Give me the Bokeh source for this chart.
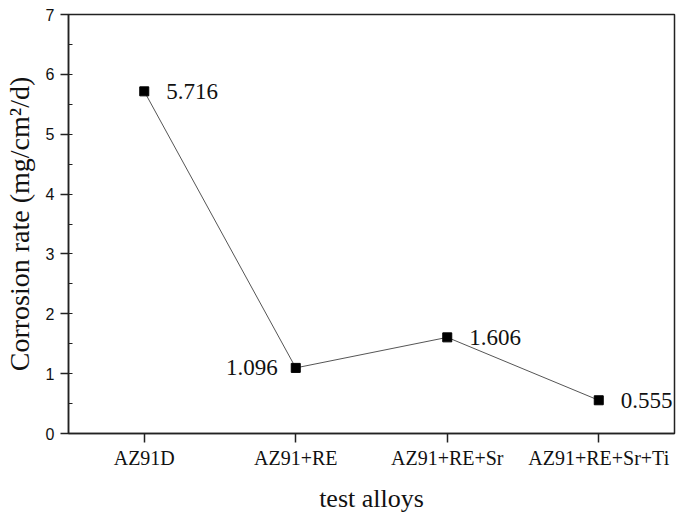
from bokeh.plotting import figure
from bokeh.models import Range1d, FactorRange, SingleIntervalTicker
from bokeh.core.properties import value
from bokeh.embed import file_html
from bokeh.resources import INLINE

categories = ["AZ91D", "AZ91+RE", "AZ91+RE+Sr", "AZ91+RE+Sr+Ti"]
corrosion_rate = [5.716, 1.096, 1.606, 0.555]
label_side = ["right", "left", "right", "right"]

p = figure(width=677, height=515, x_range=FactorRange(factors=categories),
           y_range=Range1d(0, 7), output_backend="svg", toolbar_location=None,
           min_border_left=68, min_border_right=3, min_border_top=14, min_border_bottom=82)

p.grid.visible = False
p.outline_line_color = "#222222"
p.outline_line_width = 1.5
p.background_fill_color = "white"
p.border_fill_color = "white"

p.line(categories, corrosion_rate, line_color="#555555", line_width=1)
p.scatter(categories, corrosion_rate, marker="square", size=9, color="black")

# label placed to the right of the point -> left-aligned text, and vice versa
for side, align, off in (("right", "left", 22), ("left", "right", -18)):
    xs = [c for c, s in zip(categories, label_side) if s == side]
    ys = [v for v, s in zip(corrosion_rate, label_side) if s == side]
    ts = [f"{v:.3f}" for v in ys]
    p.text(x=xs, y=ys, text=ts, x_offset=off, text_align=align, text_baseline="middle",
           text_font=value("Liberation Serif"), text_font_size="23px", text_color="#111111")

# y axis
p.yaxis.ticker = SingleIntervalTicker(interval=1, num_minor_ticks=2)
p.yaxis.axis_label = "Corrosion rate (mg/cm²/d)"
p.yaxis.axis_label_text_font = "Liberation Serif"
p.yaxis.axis_label_text_font_style = "normal"
p.yaxis.axis_label_text_font_size = "28px"
p.yaxis.axis_label_text_color = "#111111"
p.yaxis.axis_label_standoff = 8
p.yaxis.major_label_text_font = "Liberation Sans"
p.yaxis.major_label_text_font_size = "16px"
p.yaxis.major_label_text_color = "#111111"
p.yaxis.major_label_standoff = 6
p.yaxis.major_tick_out = 8
p.yaxis.major_tick_in = 0
p.yaxis.minor_tick_out = 0
p.yaxis.minor_tick_in = 4
p.yaxis.axis_line_width = 1.5
p.yaxis.major_tick_line_width = 1.5
p.yaxis.axis_line_color = "#222222"
p.yaxis.major_tick_line_color = "#222222"
p.yaxis.minor_tick_line_color = "#222222"

# x axis
p.xaxis.axis_label = "test alloys"
p.xaxis.axis_label_text_font = "Liberation Serif"
p.xaxis.axis_label_text_font_style = "normal"
p.xaxis.axis_label_text_font_size = "26px"
p.xaxis.axis_label_text_color = "#111111"
p.xaxis.axis_label_standoff = 12
p.xaxis.major_label_text_font = "Liberation Serif"
p.xaxis.major_label_text_font_size = "20px"
p.xaxis.major_label_text_color = "#111111"
p.xaxis.major_label_standoff = 4
p.xaxis.major_tick_out = 9
p.xaxis.major_tick_in = 0
p.xaxis.axis_line_width = 1.5
p.xaxis.major_tick_line_width = 1.5
p.xaxis.axis_line_color = "#222222"
p.xaxis.major_tick_line_color = "#222222"

open("out.html", "w").write(file_html(p, INLINE))
